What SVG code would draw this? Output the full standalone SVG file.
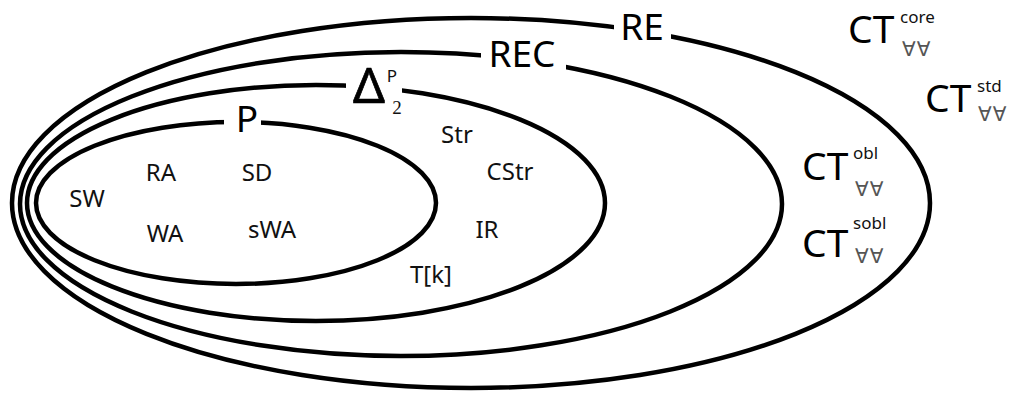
<svg xmlns="http://www.w3.org/2000/svg" width="1013" height="393" viewBox="0 0 1013 393">
  <style>
    .set { fill: none; stroke: #000; stroke-width: 4.5; }
    .gap { fill: #fff; }
    .big { font-family: "Noto Sans", "DejaVu Sans", sans-serif; font-size: 37px; fill: #000; }
    .ct { font-family: "Noto Sans", "DejaVu Sans", sans-serif; font-size: 39px; fill: #000; }
    .lbl { font-family: "Noto Sans", "DejaVu Sans", sans-serif; font-size: 24px; fill: #111; }
    .sup { font-family: "Noto Sans", "DejaVu Sans", sans-serif; font-size: 17px; fill: #111; }
    .sub2 { font-family: "Liberation Serif", serif; font-size: 19px; fill: #111; }
    .fa { font-family: "DejaVu Sans", sans-serif; font-size: 20px; fill: #555; letter-spacing: 1px; }
  </style>

  <!-- nested complexity classes -->
  <g id="re">
    <ellipse class="set" cx="471" cy="203" rx="459" ry="185"/>
    <rect class="gap" x="614" y="12" width="57" height="32"/>
    <text class="big" x="642" y="40" text-anchor="middle">RE</text>
  </g>
  <g id="rec">
    <ellipse class="set" cx="401" cy="204" rx="381" ry="152"/>
    <rect class="gap" x="481" y="38" width="85" height="32"/>
    <text class="big" x="522" y="67" text-anchor="middle">REC</text>
  </g>
  <g id="delta2p">
    <ellipse class="set" cx="316" cy="203" rx="289" ry="118"/>
    <rect class="gap" x="346" y="62" width="56" height="52"/>
    <text x="369" y="103" text-anchor="middle" font-family="Noto Sans, DejaVu Sans, sans-serif" font-size="50" fill="#000" stroke="#000" stroke-width="0.7">Δ</text>
    <text class="sup" x="392" y="82" text-anchor="middle">P</text>
    <text class="sub2" x="397" y="114" text-anchor="middle">2</text>
  </g>
  <g id="p">
    <ellipse class="set" cx="236" cy="203" rx="200" ry="81"/>
    <rect class="gap" x="224" y="104" width="37" height="32"/>
    <text class="big" x="247" y="132" text-anchor="middle">P</text>
  </g>

  <!-- members of P -->
  <g id="sw"><text class="lbl" x="87" y="207" text-anchor="middle">SW</text></g>
  <g id="ra"><text class="lbl" x="161" y="181" text-anchor="middle">RA</text></g>
  <g id="sd"><text class="lbl" x="257" y="181" text-anchor="middle">SD</text></g>
  <g id="wa"><text class="lbl" x="165" y="242" text-anchor="middle">WA</text></g>
  <g id="swa"><text class="lbl" x="272" y="238" text-anchor="middle">sWA</text></g>

  <!-- members of Delta2P -->
  <g id="str"><text class="lbl" x="457" y="143" text-anchor="middle">Str</text></g>
  <g id="cstr"><text class="lbl" x="510" y="180" text-anchor="middle">CStr</text></g>
  <g id="ir"><text class="lbl" x="487" y="238" text-anchor="middle">IR</text></g>
  <g id="tk"><text class="lbl" x="431" y="283" text-anchor="middle">T[k]</text></g>

  <!-- CT variants -->
  <g id="ct-core">
    <text class="ct" x="848" y="43">CT</text>
    <text class="sup" x="900" y="23">core</text>
    <text class="fa" x="902" y="56">∀∀</text>
  </g>
  <g id="ct-std">
    <text class="ct" x="925" y="112">CT</text>
    <text class="sup" x="977" y="92">std</text>
    <text class="fa" x="978" y="121">∀∀</text>
  </g>
  <g id="ct-obl">
    <text class="ct" x="802" y="180">CT</text>
    <text class="sup" x="853" y="159">obl</text>
    <text class="fa" x="855" y="196">∀∀</text>
  </g>
  <g id="ct-sobl">
    <text class="ct" x="802" y="257">CT</text>
    <text class="sup" x="853" y="229">sobl</text>
    <text class="fa" x="855" y="263">∀∀</text>
  </g>
</svg>
